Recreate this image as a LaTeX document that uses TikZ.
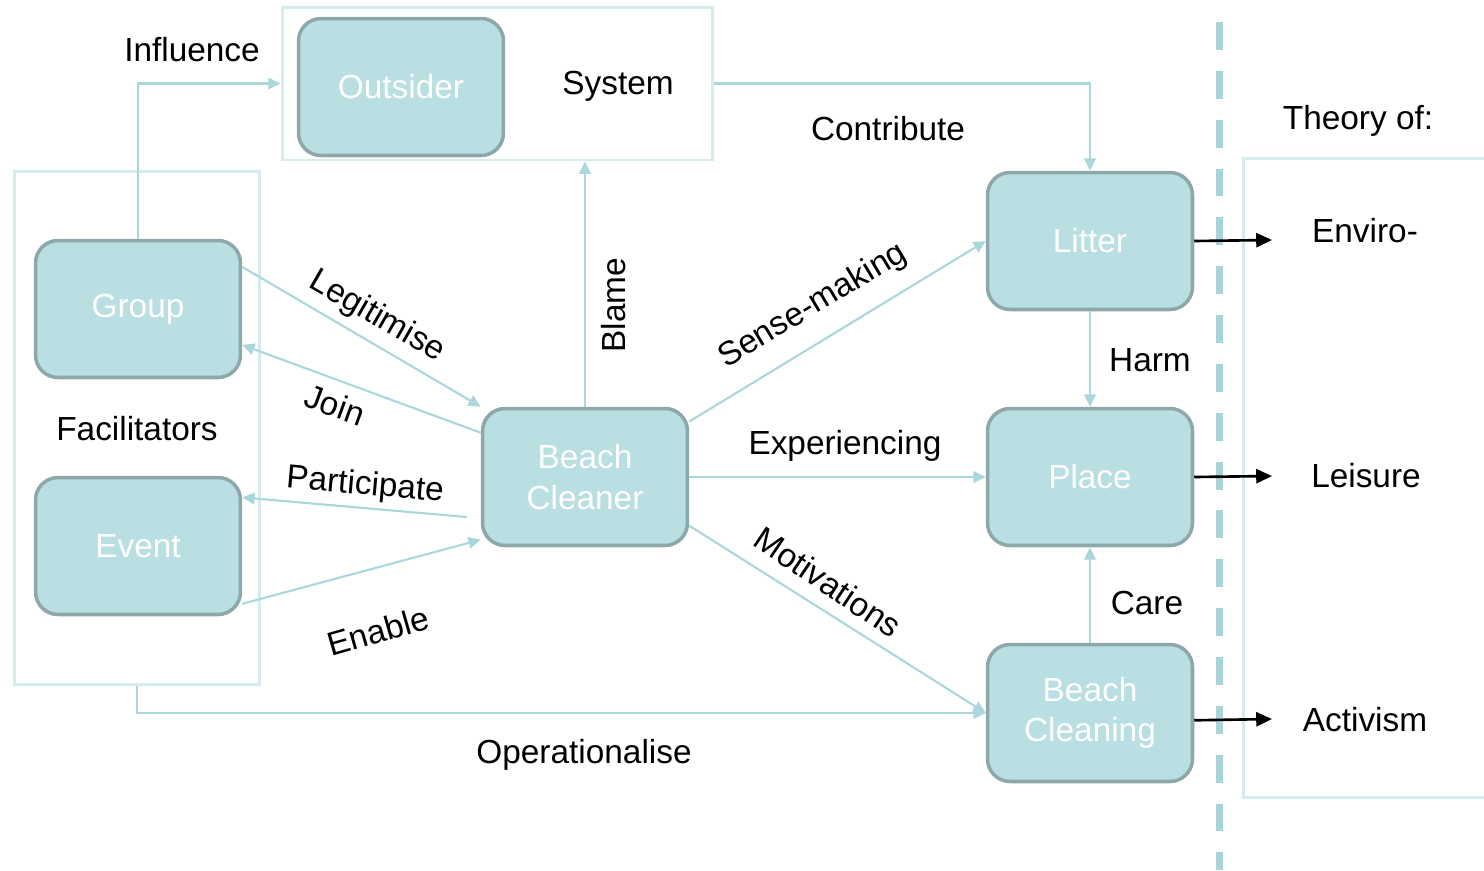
\documentclass[tikz,border=0pt]{standalone}
\usepackage{fontspec}
\setmainfont{Liberation Sans}
\usetikzlibrary{arrows.meta}

\definecolor{boxfill}{HTML}{B9DFE2}
\definecolor{boxedge}{HTML}{8EA7AA}
\definecolor{linkcol}{HTML}{A9D7DB}
\definecolor{framecol}{HTML}{D4ECEE}
\definecolor{dashcol}{HTML}{A9D5D9}

\tikzstyle{concept}=[rectangle, rounded corners=0.45cm, draw=boxedge, line width=2pt, fill=boxfill, text=white, minimum width=4.1cm, minimum height=2.74cm, align=center, font=\fontsize{19}{23}\selectfont]
\tikzstyle{frame}=[rectangle, draw=framecol, line width=1.7pt, inner sep=0pt]
\tikzstyle{lbl}=[font=\fontsize{19}{23}\selectfont, text=black]
\tikzstyle{linkarrow}=[-{Triangle[length=7pt, width=6.5pt]}, draw=linkcol, line width=1.2pt]
\tikzstyle{outarrow}=[-{Triangle[length=9pt, width=8pt]}, draw=black, line width=1.5pt]

\begin{document}
\begin{tikzpicture}[x=0.02cm, y=-0.02cm]
    \useasboundingbox (0,0) rectangle (1484,870);

    % frames
    \node (sysbox) at (497.5,83.5) [frame, minimum width=8.62cm, minimum height=3.06cm] {};
    \node (facbox) at (137,428) [frame, minimum width=4.92cm, minimum height=10.28cm] {};
    \draw[framecol, line width=1.7pt] (1490,158) -- (1243,158) -- (1243,797) -- (1490,797);
    \draw[dashcol, line width=4pt, dash pattern=on 15.9pt off 11.9pt] (1219,22) -- (1219,870);

    \node (outsider) at (401,87) [concept] {Outsider};
    \node (group) at (138,309) [concept] {Group};
    \node (event) at (138,546) [concept] {Event};
    \node (cleaner) at (585,477) [concept] {Beach\\Cleaner};
    \node (litter) at (1090,241) [concept] {Litter};
    \node (place) at (1090,477) [concept] {Place};
    \node (cleaning) at (1090,713) [concept] {Beach\\Cleaning};

    \node (system) at (618,86) [lbl] {System};
    \node (facil) at (137,429) [lbl] {Facilitators};
    \node (theory) at (1358,121) [lbl] {Theory of:};
    \node (enviro) at (1365,231) [lbl] {Enviro-};
    \node (leisure) at (1366,476) [lbl] {Leisure};
    \node (activism) at (1365,720) [lbl] {Activism};

    \coordinate (envend) at (1272,240);
    \coordinate (leisend) at (1272,476);
    \coordinate (actend) at (1272,719);

    \draw[linkarrow] (group.north) |- (sysbox.west);
    \draw[linkarrow] (sysbox.east) -| (litter.north);
    \draw[linkarrow] (cleaner.north) -- (cleaner.north |- sysbox.south);
    \draw[linkarrow] (group.22) -- (cleaner.north west);
    \draw[linkarrow] (cleaner.157) -- (group.-19);
    \draw[linkarrow] ([xshift=-0.28cm]cleaner.201) -- (event.25);
    \draw[linkarrow] (event.-29) -- (cleaner.211);
    \draw[linkarrow] (cleaner.28) -- (litter.west);
    \draw[linkarrow] (cleaner.east) -- (place.west);
    \draw[linkarrow] (cleaner.-25) -- (cleaning.west);
    \draw[linkarrow] (facbox.south) |- (cleaning.west);
    \draw[linkarrow] (litter.south) -- (place.north);
    \draw[linkarrow] (cleaning.north) -- (place.south);

    \draw[outarrow] (litter.east) -- (envend);
    \draw[outarrow] (place.east) -- (leisend);
    \draw[outarrow] (cleaning.-4) -- (actend);

    % connector labels
    \node (influence) at (192,50) [lbl] {Influence};
    \node (contribute) at (888,129) [lbl] {Contribute};
    \node (blame) at (614,305) [lbl, rotate=90] {Blame};
    \node (legitimise) at (377,317) [lbl, rotate=-30] {Legitimise};
    \node (join) at (335,405) [lbl, rotate=-20] {Join};
    \node (participate) at (365,486) [lbl, rotate=-5] {Participate};
    \node (enable) at (378,631) [lbl, rotate=16] {Enable};
    \node (sensemaking) at (813,306) [lbl, rotate=31] {Sense-making};
    \node (experiencing) at (845,446) [lbl] {Experiencing};
    \node (motivations) at (828,582) [lbl, rotate=-34] {Motivations};
    \node (harm) at (1150,360) [lbl] {Harm};
    \node (care) at (1147,603) [lbl] {Care};
    \node (operational) at (584,755) [lbl] {Operationalise};
\end{tikzpicture}
\end{document}
